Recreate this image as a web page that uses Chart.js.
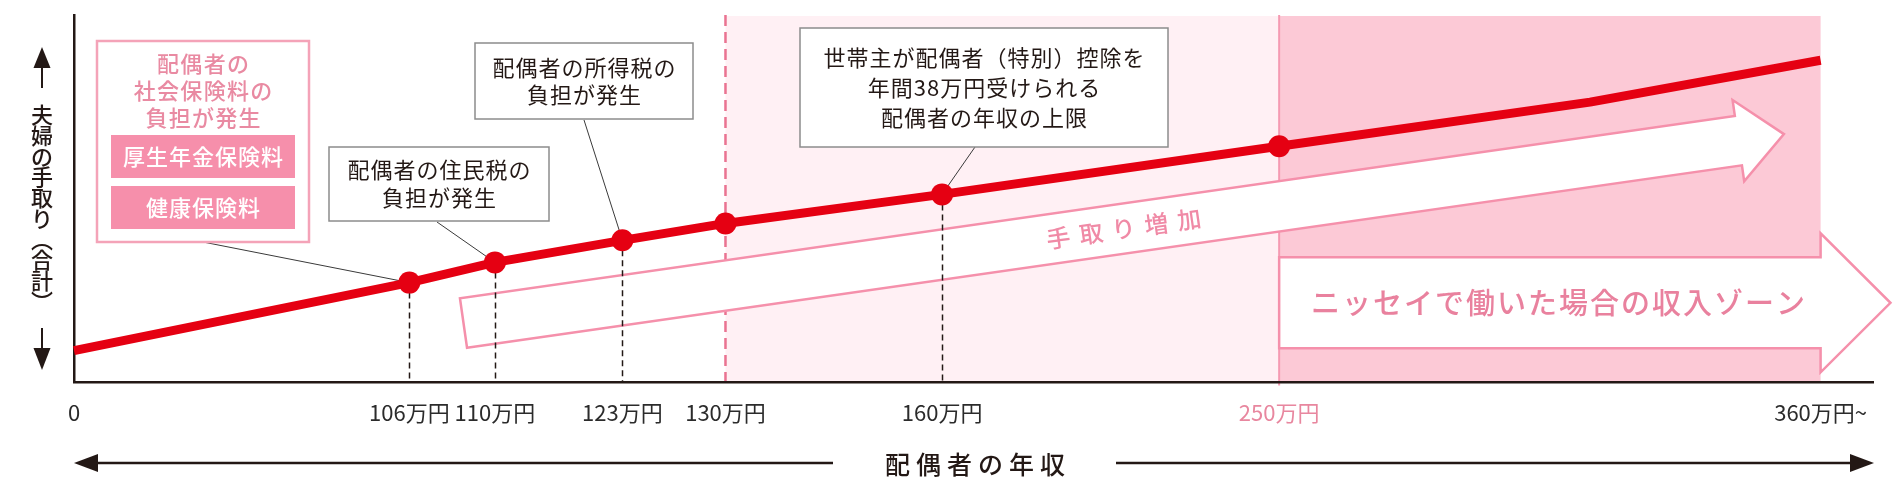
<!DOCTYPE html>
<html lang="ja">
<head>
<meta charset="utf-8">
<title>配偶者の年収と夫婦の手取り</title>
<script src="https://cdn.jsdelivr.net/npm/chart.js@4.4.1/dist/chart.umd.min.js"></script>
<style>
  html, body { margin: 0; padding: 0; background: #fff; }
  #wrap { width: 1896px; height: 496px; position: relative; }
</style>
</head>
<body>
<div id="wrap"><canvas id="income-chart"></canvas></div>
<script>
// 配偶者の年収: tick labels and where each sits on the (not to scale) axis, 0-100
const incomeLabels = ['0', '106万円', '110万円', '123万円', '130万円', '160万円', '250万円', '360万円~'];
const incomePos = [0, 19.2, 24.1, 31.4, 37.3, 49.7, 69.0, 100];

// 夫婦の手取り(合計), 0-100
const linePos = [0, 19.2, 24.1, 31.4, 37.3, 49.7, 69.0, 86.8, 100];
const takeHome = [8.7, 27.2, 32.7, 38.7, 43.3, 51.2, 64.3, 76.3, 87.7];

// which incomes get a dot, and which a dashed drop line
const markedIncome = ['106万円', '110万円', '123万円', '130万円', '160万円', '250万円'];
const dropIncome = ['106万円', '110万円', '123万円', '160万円'];

const X_MAX = 103;
const JP = '"Noto Sans CJK JP", "Noto Sans", sans-serif';
const INK = '#231815';
const PINK_LINE = '#f590ab';

function posOf(label) {
  return incomePos[incomeLabels.indexOf(label)];
}
function valueAt(label) {
  return takeHome[linePos.indexOf(posOf(label))];
}

// callout boxes (pixel layout), each pointing at one of the dots
const notes = [
  { lines: ['配偶者の住民税の', '負担が発生'], box: [329, 147, 220, 74], gap: 28, from: [437, 222], at: '110万円' },
  { lines: ['配偶者の所得税の', '負担が発生'], box: [475, 43, 218, 76], gap: 27, from: [584, 120], at: '123万円' },
  { lines: ['世帯主が配偶者（特別）控除を', '年間38万円受けられる', '配偶者の年収の上限'], box: [800, 28, 368, 119], gap: 30, from: [975, 147], at: '160万円' }
];
const socialNote = {
  lines: ['配偶者の', '社会保険料の', '負担が発生'],
  items: ['厚生年金保険料', '健康保険料'],
  box: [97, 41, 212, 201], from: [203, 242], at: '106万円'
};

function drawSpaced(ctx, text, cx, cy, spacing) {
  const chars = Array.from(text);
  const widths = chars.map(ch => ctx.measureText(ch).width);
  const total = widths.reduce((a, b) => a + b, 0) + spacing * (chars.length - 1);
  let x = cx - total / 2;
  ctx.textAlign = 'left';
  ctx.textBaseline = 'middle';
  chars.forEach((ch, i) => {
    ctx.fillText(ch, x, cy);
    x += widths[i] + spacing;
  });
}

function arrowPath(ctx, sx, sy, tx, ty, hw, hl, hh) {
  const len = Math.hypot(tx - sx, ty - sy);
  const ux = (tx - sx) / len, uy = (ty - sy) / len;
  const nx = -uy, ny = ux;
  const bx = tx - ux * hl, by = ty - uy * hl;
  ctx.beginPath();
  ctx.moveTo(sx + nx * hw, sy + ny * hw);
  ctx.lineTo(bx + nx * hw, by + ny * hw);
  ctx.lineTo(bx + nx * hh, by + ny * hh);
  ctx.lineTo(tx, ty);
  ctx.lineTo(bx - nx * hh, by - ny * hh);
  ctx.lineTo(bx - nx * hw, by - ny * hw);
  ctx.lineTo(sx - nx * hw, sy - ny * hw);
  ctx.closePath();
}

function solidArrowHead(ctx, tipX, tipY, dx, dy, len, half) {
  // dx,dy: unit direction the arrow points to
  const bx = tipX - dx * len, by = tipY - dy * len;
  ctx.beginPath();
  ctx.moveTo(tipX, tipY);
  ctx.lineTo(bx - dy * half, by + dx * half);
  ctx.lineTo(bx + dy * half, by - dx * half);
  ctx.closePath();
  ctx.fill();
}

// zones, borders and the two big arrows, under the axes
const zoneShade = {
  id: 'zoneShade',
  beforeDraw(chart) {
    const { ctx, chartArea: a, scales: { x, y } } = chart;
    const x130 = x.getPixelForValue(posOf('130万円'));
    const x250 = x.getPixelForValue(posOf('250万円'));
    const x360 = x.getPixelForValue(posOf('360万円~'));
    ctx.save();
    ctx.fillStyle = '#fff0f4';
    ctx.fillRect(x130, a.top + 1, x250 - x130, a.bottom - a.top - 1);
    ctx.fillStyle = '#fcc9d6';
    ctx.fillRect(x250, a.top + 1, x360 - x250, a.bottom - a.top - 1);

    ctx.strokeStyle = '#ea7391';
    ctx.lineWidth = 2.5;
    ctx.setLineDash([11, 6]);
    ctx.beginPath();
    ctx.moveTo(x130, a.top);
    ctx.lineTo(x130, a.bottom + 4);
    ctx.stroke();
    ctx.setLineDash([]);
    ctx.strokeStyle = '#f59ab2';
    ctx.lineWidth = 2;
    ctx.beginPath();
    ctx.moveTo(x250, a.top);
    ctx.lineTo(x250, a.bottom + 3);
    ctx.stroke();

    // 手取り増加 arrow
    const sx = x.getPixelForValue(22.3), sy = y.getPixelForValue(16.2);
    const tx = x.getPixelForValue(97.9), ty = y.getPixelForValue(67.6);
    arrowPath(ctx, sx, sy, tx, ty, 25, 46, 41);
    ctx.fillStyle = '#fff';
    ctx.fill();
    ctx.strokeStyle = PINK_LINE;
    ctx.lineWidth = 2.5;
    ctx.lineJoin = 'miter';
    ctx.stroke();
    ctx.save();
    ctx.translate((sx + tx) / 2, (sy + ty) / 2);
    ctx.rotate(Math.atan2(ty - sy, tx - sx));
    ctx.fillStyle = '#f08aa6';
    ctx.font = '500 24px ' + JP;
    drawSpaced(ctx, '手取り増加', 0, 0, 9);
    ctx.restore();

    // ニッセイ zone arrow
    const my = y.getPixelForValue(21.7);
    const tipX = x.getPixelForValue(104);
    arrowPath(ctx, x250, my, tipX, my, 45.5, tipX - x360, 69.5);
    ctx.fillStyle = '#fff';
    ctx.fill();
    ctx.stroke();
    ctx.fillStyle = '#e9819e';
    ctx.font = '500 29px ' + JP;
    drawSpaced(ctx, 'ニッセイで働いた場合の収入ゾーン', (x250 + x360) / 2 + 8, my, 2);
    ctx.restore();
  }
};

// dashed drop lines and leader lines, under the red line
const guideLines = {
  id: 'guideLines',
  beforeDatasetsDraw(chart) {
    const { ctx, chartArea: a, scales: { x, y } } = chart;
    ctx.save();
    ctx.strokeStyle = INK;
    ctx.lineWidth = 1.5;
    ctx.setLineDash([6, 4]);
    dropIncome.forEach(label => {
      const px = Math.round(x.getPixelForValue(posOf(label))) + 0.5;
      ctx.beginPath();
      ctx.moveTo(px, y.getPixelForValue(valueAt(label)));
      ctx.lineTo(px, a.bottom);
      ctx.stroke();
    });
    ctx.setLineDash([]);
    ctx.strokeStyle = '#3a3a3a';
    ctx.lineWidth = 1;
    notes.concat([socialNote]).forEach(n => {
      ctx.beginPath();
      ctx.moveTo(n.from[0], n.from[1]);
      ctx.lineTo(x.getPixelForValue(posOf(n.at)), y.getPixelForValue(valueAt(n.at)));
      ctx.stroke();
    });
    ctx.restore();
  }
};

// callout boxes and the two axis titles
const callouts = {
  id: 'callouts',
  afterDraw(chart) {
    const { ctx, chartArea: a } = chart;
    ctx.save();
    ctx.font = '400 22px ' + JP;
    notes.forEach(n => {
      const [bx, by, bw, bh] = n.box;
      ctx.fillStyle = '#fff';
      ctx.fillRect(bx, by, bw, bh);
      ctx.strokeStyle = '#8c8c8c';
      ctx.lineWidth = 1.5;
      ctx.strokeRect(bx, by, bw, bh);
      ctx.fillStyle = INK;
      const cy = by + bh / 2 - (n.lines.length - 1) * n.gap / 2;
      n.lines.forEach((t, i) => drawSpaced(ctx, t, bx + bw / 2, cy + i * n.gap, 1));
    });

    const [sx, sy, sw, sh] = socialNote.box;
    ctx.fillStyle = '#fff';
    ctx.fillRect(sx, sy, sw, sh);
    ctx.strokeStyle = '#f4a3b8';
    ctx.lineWidth = 2.5;
    ctx.strokeRect(sx, sy, sw, sh);
    ctx.fillStyle = '#e98aa2';
    ctx.font = '500 22px ' + JP;
    socialNote.lines.forEach((t, i) => drawSpaced(ctx, t, sx + sw / 2, sy + 23 + i * 27, 1.3));
    socialNote.items.forEach((t, i) => {
      const iy = sy + 94 + i * 51;
      ctx.fillStyle = '#f68fab';
      ctx.fillRect(sx + 14, iy, sw - 28, 43);
      ctx.fillStyle = '#fff';
      drawSpaced(ctx, t, sx + sw / 2, iy + 22, 1);
    });

    // y title, set vertically with arrows
    const lx = a.left - 32;
    ctx.fillStyle = INK;
    ctx.strokeStyle = INK;
    ctx.lineWidth = 2;
    ctx.beginPath();
    ctx.moveTo(lx, 66); ctx.lineTo(lx, 88);
    ctx.moveTo(lx, 328); ctx.lineTo(lx, 350);
    ctx.stroke();
    solidArrowHead(ctx, lx, 47, 0, -1, 21, 8.5);
    solidArrowHead(ctx, lx, 370, 0, 1, 22, 8.5);
    ctx.font = '500 22px ' + JP;
    ctx.textAlign = 'center';
    ctx.textBaseline = 'middle';
    const vert = { '（': '︵', '）': '︶' };
    Array.from('夫婦の手取り（合計）').forEach((ch, i) => {
      ctx.fillText(vert[ch] || ch, lx, 115 + i * 20.7);
    });

    // x title with a long double arrow
    const ty = 463;
    const cx = 975;
    ctx.lineWidth = 2.5;
    ctx.beginPath();
    ctx.moveTo(a.left + 20, ty); ctx.lineTo(833, ty);
    ctx.moveTo(1116, ty); ctx.lineTo(a.right - 20, ty);
    ctx.stroke();
    solidArrowHead(ctx, a.left, ty, -1, 0, 24, 9);
    solidArrowHead(ctx, a.right + 1, ty, 1, 0, 24, 9);
    ctx.font = '500 25px ' + JP;
    drawSpaced(ctx, '配偶者の年収', cx, ty + 1, 6);
    ctx.restore();
  }
};

const markedPos = markedIncome.map(posOf);
const dotRadius = ctx => (markedPos.includes(linePos[ctx.dataIndex]) ? 11 : 0);

new Chart(document.getElementById('income-chart'), {
  type: 'scatter',
  data: {
    datasets: [{
      label: '夫婦の手取り（合計）',
      data: linePos.map((p, i) => ({ x: p, y: takeHome[i] })),
      showLine: true,
      borderColor: '#e50012',
      backgroundColor: '#e50012',
      borderWidth: 9,
      borderJoinStyle: 'round',
      pointRadius: dotRadius,
      pointHoverRadius: dotRadius,
      pointBorderWidth: 0,
      clip: false
    }]
  },
  options: {
    responsive: true,
    maintainAspectRatio: false,
    animation: false,
    events: [],
    layout: { padding: { left: 74, top: 15, right: 23, bottom: 53 } },
    plugins: {
      legend: { display: false },
      tooltip: { enabled: false }
    },
    scales: {
      x: {
        type: 'linear',
        min: 0,
        max: X_MAX,
        grid: { display: false, drawTicks: false },
        border: { display: true, color: INK, width: 2.5 },
        afterBuildTicks: scale => {
          scale.ticks = incomePos.map(v => ({ value: v }));
        },
        ticks: {
          autoSkip: false,
          maxRotation: 0,
          padding: 17,
          font: { family: '"Liberation Sans Narrow", ' + JP, size: 22 },
          color: c => (c.tick && c.tick.value === posOf('250万円') ? '#e8879f' : '#2b2b2b'),
          callback: value => incomeLabels[incomePos.indexOf(value)]
        }
      },
      y: {
        min: 0,
        max: 100,
        grid: { display: false, drawTicks: false },
        border: { display: true, color: INK, width: 2.5 },
        ticks: { display: false }
      }
    }
  },
  plugins: [zoneShade, guideLines, callouts]
});
</script>
</body>
</html>
